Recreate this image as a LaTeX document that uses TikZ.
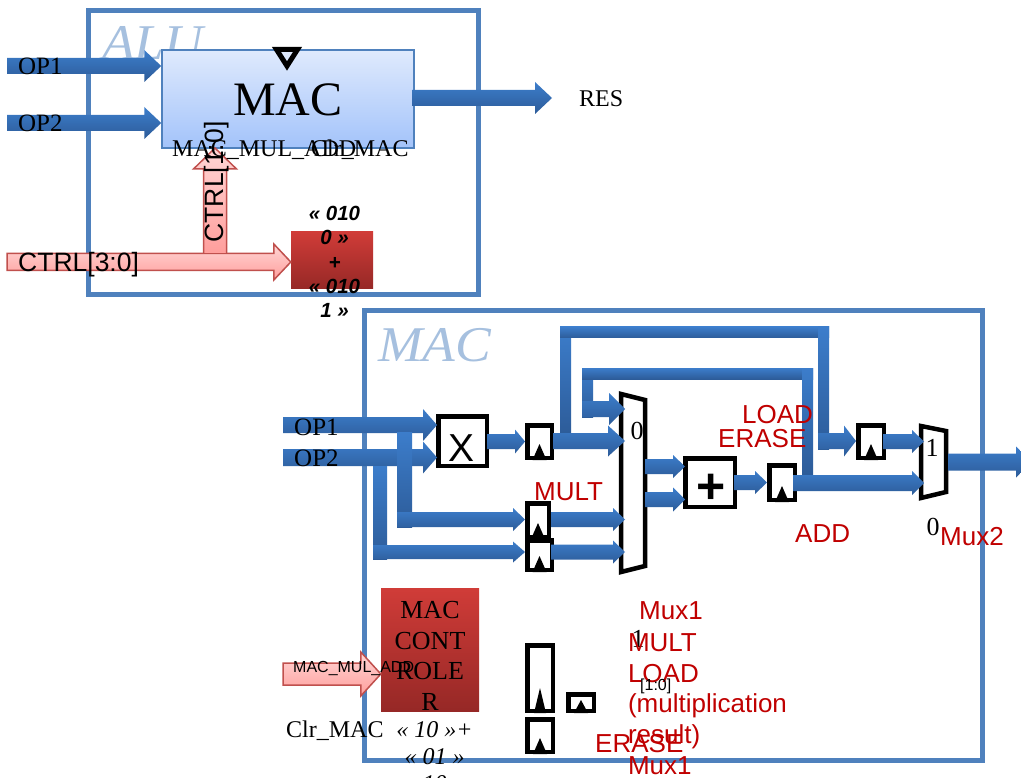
\documentclass[tikz,border=0pt]{standalone}
\usepackage{fontspec}
\setmainfont{Liberation Serif}
\setsansfont{Liberation Sans}
\usetikzlibrary{calc}
\definecolor{frameblue}{HTML}{4F81BD}
\definecolor{wmblue}{HTML}{A6C0DF}
\definecolor{redtxt}{HTML}{C00000}
\definecolor{arrtop}{HTML}{3C7DCB}
\definecolor{arrbot}{HTML}{2D5C99}
\definecolor{pinktop}{HTML}{FFD6D5}
\definecolor{pinkbot}{HTML}{FF9E9C}
\definecolor{pinkline}{HTML}{C0504D}
\definecolor{redtop}{HTML}{D03C38}
\definecolor{redbot}{HTML}{962826}
\definecolor{mactop}{HTML}{DFEAFD}
\definecolor{macbot}{HTML}{A3C3FA}
\newcommand{\fsz}[1]{\fontsize{#1}{#1}\selectfont}
\newcommand{\HC}[7]{\path[#1] let \p1=(#2),\p2=(#3),\p3=(0,#4) in
  (\x1,\y3+#5pt) -- (\x2-#7pt,\y3+#5pt) -- (\x2-#7pt,\y3+#6pt) -- (\x2,\y3)
  -- (\x2-#7pt,\y3-#6pt) -- (\x2-#7pt,\y3-#5pt) -- (\x1,\y3-#5pt) -- cycle;}
\newcommand{\clk}[3]{\fill[black] (#1) ++(-#2,0) -- ++(2*#2,0) -- ++(-#2,-#3) -- cycle;}
\tikzset{
  x=1pt,y=-1pt,
  blu/.style={top color=arrtop,bottom color=arrbot,draw=none},
  pinkarr/.style={top color=pinktop,bottom color=pinkbot,draw=pinkline,line width=1.5pt},
  framebox/.style={draw=frameblue,line width=5pt,inner sep=0,fill=white},
  ffbox/.style={draw=black,line width=4.5pt,fill=white,inner sep=0},
  opbox/.style={draw=black,line width=4.5pt,fill=white,inner sep=0},
  muxline/.style={draw=black,line width=4.5pt,fill=white,miter limit=10},
  redblock/.style={top color=redtop,bottom color=redbot,draw=none,inner sep=0},
  ser/.style={inner sep=0,anchor=base west,font=\fsz{24}},
  opl/.style={inner sep=0,anchor=base west,font=\fsz{25}},
  redl/.style={inner sep=0,anchor=base west,text=redtxt,font=\sffamily\fsz{26}},
  ctrltxt/.style={inner sep=0,anchor=base west,font=\sffamily\fsz{26.5}},
  wm/.style={inner sep=0,anchor=base west,text=wmblue,font=\itshape\fsz{50},xscale=1.07},
}
\begin{document}
\begin{tikzpicture}
\useasboundingbox (0,0) rectangle (1021,778);
\clip (0,0) rectangle (1021,778);
% frames
\node[framebox,minimum width=390pt,minimum height=284pt] (alu) at (283.5,152.5) {};
\node[framebox,minimum width=618pt,minimum height=449pt] (macframe) at (673.5,535.5) {};
\node[wm] (aluw) at (102,60) {ALU};
\node[wm] (macw) at (378,362) {MAC};
% top MAC block
\node[top color=mactop,bottom color=macbot,draw=frameblue,line width=1.5pt,inner sep=0,minimum width=252pt,minimum height=98pt] (mac) at (288,99) {};
\draw[black,line width=5pt,miter limit=10] (276.5,49.5) -- (297.5,49.5) -- (287,66) -- cycle;
\node[redblock,minimum width=82pt,minimum height=57pt] (dec) at (332,260.5) {};
\coordinate (op1s) at (7,66);
\coordinate (op2s) at (7,123);
\coordinate (ress) at (412,98);
\coordinate (rest) at (552,98);
\coordinate (ctrls) at (7,262);
\coordinate (ctrlj) at (215,253);
\coordinate (ctrlt) at (215,148);
\HC{blu}{op1s}{mac.west}{66}{8}{16}{17}
\HC{blu}{op2s}{mac.west}{123}{8}{16}{17}
\HC{blu}{ress}{rest}{98}{8}{16}{17}
\HC{pinkarr}{ctrls}{dec.west}{262}{8.5}{18}{17}
\path[pinkarr] let \p1=(ctrlj),\p2=(ctrlt) in
  (\x1-11.5pt,\y1) -- (\x1-11.5pt,\y2-21pt) -- (\x1-21.5pt,\y2-21pt) -- (\x2,\y2)
  -- (\x1+21.5pt,\y2-21pt) -- (\x1+11.5pt,\y2-21pt) -- (\x1+11.5pt,\y1);
% bottom MAC blocks
\node[opbox,minimum width=48.5pt,minimum height=49.5pt] (xb) at (462.5,441) {};
\node[opbox,minimum width=49.5pt,minimum height=48.5pt] (pb) at (710,482.5) {};
\node[ffbox,minimum width=24.5pt,minimum height=32.5pt] (ff1) at (539.5,441.5) {};
\node[ffbox,minimum width=21.5pt,minimum height=33.5pt] (ff2) at (538,520) {};
\node[ffbox,minimum width=24.5pt,minimum height=29.5pt] (ff3) at (539.5,555) {};
\node[ffbox,minimum width=25.5pt,minimum height=34.5pt] (ff4) at (782,482.5) {};
\node[ffbox,minimum width=25.5pt,minimum height=32.5pt] (ff5) at (871,441.5) {};
\node[ffbox,minimum width=25.5pt,minimum height=65.5pt] (fft) at (540,678) {};
\node[ffbox,minimum width=25.5pt,minimum height=16.5pt] (ffs) at (581,702.5) {};
\node[ffbox,minimum width=25.5pt,minimum height=32.5pt] (ffb) at (540,735.5) {};
\clk{ff1.south}{7}{16}
\clk{ff2.south}{7}{16}
\clk{ff3.south}{7}{16}
\clk{ff4.south}{7}{16}
\clk{ff5.south}{7}{16}
\clk{fft.south}{6}{25}
\clk{ffs.south}{7}{13}
\clk{ffb.south}{7}{16}
\draw[muxline] (621,394) -- (645,400) -- (645,566) -- (621,572) -- cycle;
\draw[muxline] (921,426) -- (946,431) -- (946,492) -- (921,498) -- cycle;
\node[redblock,minimum width=98pt,minimum height=123pt] (ctl) at (430,649.5) {};
% free ends and mux pins
\coordinate (m1p) at (625,480);
\coordinate (m2p) at (924,460);
\coordinate (m1o1) at (645,466);
\coordinate (m1o2) at (645,499);
\coordinate (m2o) at (948,462);
\coordinate (m2t) at (1032,462);
\coordinate (lop1) at (283,425);
\coordinate (lop2) at (283,457.5);
\coordinate (mms) at (283,674);
\coordinate (xo) at (487,441.5);
\coordinate (ff1o) at (553,441);
\coordinate (ff2o) at (551,519.5);
\coordinate (ff3o) at (551,552);
\coordinate (po) at (734,482.5);
\coordinate (ff4o) at (793,483);
\coordinate (ff5o) at (883,441.5);
\coordinate (xw) at ([xshift=1pt]xb.west);
\coordinate (pw) at ([xshift=2pt]pb.west);
% bent buses
\coordinate (a1) at (560,327); \coordinate (a2) at (571,434);
\coordinate (a3) at (829,338); \coordinate (a4) at (818,327); \coordinate (a5) at (829,449);
\coordinate (b1) at (582,368); \coordinate (b2) at (593,417);
\coordinate (b3) at (813,379); \coordinate (b4) at (802,368); \coordinate (b5) at (813,474);
\coordinate (b6) at (582,409); \coordinate (a6) at (818,441);
\coordinate (c1) at (397,432); \coordinate (c2) at (412,527); \coordinate (c3) at (397,519.5);
\coordinate (d1) at (373,466); \coordinate (d2) at (387,559); \coordinate (d3) at (373,552);
\path[blu] (a1) rectangle (a2);
\path[blu] (a1) rectangle (a3);
\path[blu] (a4) rectangle (a5);
\path[blu] (b1) rectangle (b2);
\path[blu] (b1) rectangle (b3);
\path[blu] (b4) rectangle (b5);
\HC{blu}{lop1}{xw}{425}{8}{16}{14}
\HC{blu}{lop2}{xw}{457.5}{8.5}{16}{14}
\path[blu] (c1) rectangle (c2);
\path[blu] (d1) rectangle (d2);
\HC{blu}{c3}{ff2.west}{519.5}{7.5}{11.5}{12}
\HC{blu}{d3}{ff2.west}{552}{7}{10.5}{12}
\HC{blu}{xo}{ff1.west}{441.5}{7.5}{12}{10}
\HC{blu}{b6}{m1p}{409}{8}{16}{16}
\HC{blu}{ff1o}{m1p}{441}{8}{15.5}{17}
\HC{blu}{ff2o}{m1p}{519.5}{7.5}{11.5}{12}
\HC{blu}{ff3o}{m1p}{552}{7.5}{11.5}{12}
\HC{blu}{m1o1}{pw}{466.5}{7.5}{11.5}{12}
\HC{blu}{m1o2}{pw}{499.5}{7.5}{12}{12}
\HC{blu}{po}{ff4.west}{482.5}{7.5}{11.5}{12}
\HC{blu}{ff4o}{m2p}{483}{8}{12}{12}
\HC{blu}{a6}{ff5.west}{441}{8}{15.5}{12}
\HC{blu}{ff5o}{m2p}{441.5}{7.5}{11.5}{12}
\HC{blu}{m2o}{m2t}{462}{8.5}{15.5}{16}
\HC{pinkarr}{mms}{ctl.west}{674}{11}{22}{20}
% texts
\node[inner sep=0,anchor=base,font=\fsz{48}] (tmac) at (288,116) {MAC};
\node[opl] (top1) at (18,75) {OP1};
\node[opl] (top2) at (18,132) {OP2};
\node[ser] (tres) at (579,107) {RES};
\node[ser] (tmm) at (172,157) {MAC\_MUL\_ADD};
\node[ser] (tclr) at (311,157) {Clr\_MAC};
\node[ctrltxt] (tc30) at (18,272) {CTRL[3:0]};
\node[inner sep=0,rotate=90,font=\sffamily\fsz{26.5}] (tc10) at (217,182) {CTRL[1:0]};
\node[inner sep=0,align=center,font=\sffamily\bfseries\itshape\fontsize{20.5}{24.2}\selectfont] (tdec) at (334.5,262) {« 010\\0 »\\+\\« 010\\1 »};
\node[opl] (tlop1) at (294,435) {OP1};
\node[opl] (tlop2) at (294,466) {OP2};
\node[inner sep=0,anchor=base,font=\sffamily\fsz{39}] (tx) at (462,461) {X};
\node[inner sep=0,anchor=base,font=\sffamily\bfseries\fsz{50}] (tp) at (711.5,503) {+};
\node[inner sep=0,anchor=base,font=\fsz{26}] (t0a) at (637,439) {0};
\node[inner sep=0,anchor=base,font=\fsz{26}] (t1b) at (932,456) {1};
\node[inner sep=0,anchor=base,font=\fsz{26}] (t0b) at (933,535) {0};
\node[inner sep=0,anchor=base,font=\fsz{26}] (t1a) at (638,647) {1};
\node[redl] (tload) at (742,423) {LOAD};
\node[redl] (terase) at (718,447) {ERASE};
\node[redl] (tmult) at (534,500) {MULT};
\node[redl] (tadd) at (795,542) {ADD};
\node[redl] (tmux2) at (940,545) {Mux2};
\node[redl] (tmux1) at (639,619) {Mux1};
\node[inner sep=0,align=left,text=redtxt,font=\sffamily\fontsize{26}{30.6}\selectfont] (tlist) at (707.5,704) {MULT\\LOAD\\(multiplication\\result)\\Mux1};
\node[redl] (terase2) at (595,752) {ERASE};
\node[inner sep=0,anchor=base west,font=\sffamily\fsz{16}] (t10) at (640,690) {[1:0]};
\node[inner sep=0,anchor=base west,font=\sffamily\fsz{16}] (tmm2) at (293,672) {MAC\_MUL\_ADD};
\node[inner sep=0,align=center,font=\fontsize{26}{30.7}\selectfont] (tctl) at (430,656) {MAC\\CONT\\ROLE\\R};
\node[ser] (tclr2) at (286,737) {Clr\_MAC};
\node[inner sep=0,align=center,font=\itshape\fontsize{24}{27}\selectfont] (tcode) at (434.5,757) {« 10 »+\\« 01 »\\10};
\end{tikzpicture}
\end{document}
